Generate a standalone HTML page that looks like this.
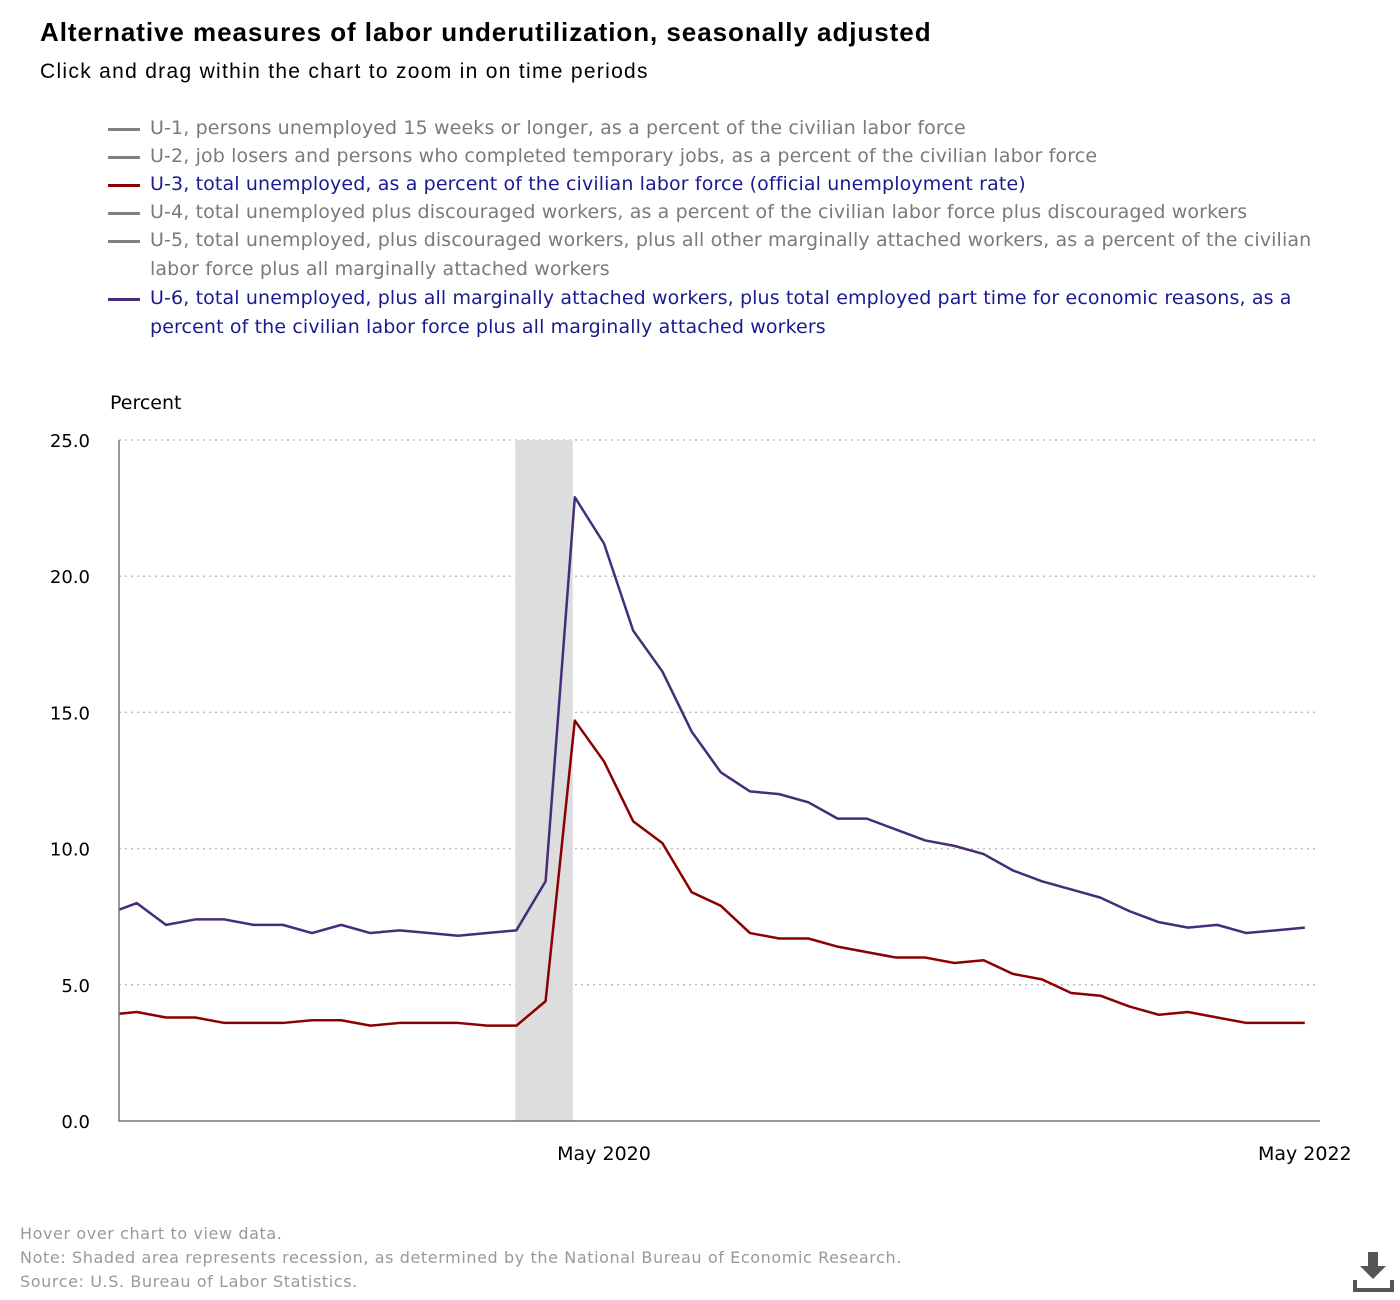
<!DOCTYPE html>
<html><head><meta charset="utf-8"><style>
body{margin:0;background:#fff;width:1400px;height:1300px;overflow:hidden;font-family:"Liberation Sans",sans-serif;position:relative}
.t{position:absolute;white-space:nowrap}
.leg{position:absolute;left:108px;font-size:19px;line-height:29px;font-family:"DejaVu Sans",sans-serif;letter-spacing:0.13px}
.leg .sw{position:absolute;left:0;top:14px;width:32px;height:3px}
.leg .tx{position:absolute;left:42px;white-space:nowrap}
.g{color:#7a7a7a}.b{color:#1a1a90}
.fn{font-family:"DejaVu Sans",sans-serif;font-size:16px;color:#999;letter-spacing:0.6px}
</style></head><body>
<div class="t" style="left:40px;top:17px;font-size:26px;font-weight:bold;letter-spacing:0.95px">Alternative measures of labor underutilization, seasonally adjusted</div>
<div class="t" style="left:40px;top:60px;font-size:21px;letter-spacing:1.3px">Click and drag within the chart to zoom in on time periods</div>

<div class="leg" style="top:114px"><div class="sw" style="background:#808080"></div><div class="tx g">U-1, persons unemployed 15 weeks or longer, as a percent of the civilian labor force</div></div>
<div class="leg" style="top:142px"><div class="sw" style="background:#808080"></div><div class="tx g">U-2, job losers and persons who completed temporary jobs, as a percent of the civilian labor force</div></div>
<div class="leg" style="top:170px"><div class="sw" style="background:#8b0000"></div><div class="tx b">U-3, total unemployed, as a percent of the civilian labor force (official unemployment rate)</div></div>
<div class="leg" style="top:198px"><div class="sw" style="background:#808080"></div><div class="tx g">U-4, total unemployed plus discouraged workers, as a percent of the civilian labor force plus discouraged workers</div></div>
<div class="leg" style="top:226px"><div class="sw" style="background:#808080"></div><div class="tx g">U-5, total unemployed, plus discouraged workers, plus all other marginally attached workers, as a percent of the civilian<br>labor force plus all marginally attached workers</div></div>
<div class="leg" style="top:284px"><div class="sw" style="background:#472c7a"></div><div class="tx b">U-6, total unemployed, plus all marginally attached workers, plus total employed part time for economic reasons, as a<br>percent of the civilian labor force plus all marginally attached workers</div></div>

<svg id="chart" width="1400" height="1300" style="position:absolute;left:0;top:0" font-family="DejaVu Sans, sans-serif">
<defs><clipPath id="clip"><rect x="119" y="430" width="1200" height="700"/></clipPath></defs>
<text x="110" y="409" font-size="19">Percent</text>
<g id="grid"></g><g id="rec"></g><g id="lines" clip-path="url(#clip)"></g><g id="axes"></g>
</svg>

<div class="t fn" style="left:20px;top:1224px">Hover over chart to view data.</div>
<div class="t fn" style="left:20px;top:1248px">Note: Shaded area represents recession, as determined by the National Bureau of Economic Research.</div>
<div class="t fn" style="left:20px;top:1272px">Source: U.S. Bureau of Labor Statistics.</div>
<svg style="position:absolute;left:1352px;top:1250px" width="44" height="44"><path d="M16 2h10v14h8l-13 13-13-13h8z" fill="#555"/><path d="M3 30v10h37v-10" stroke="#555" stroke-width="4" fill="none"/></svg>

<script>
const months=["Dec 2018","Jan 2019","Feb 2019","Mar 2019","Apr 2019","May 2019","Jun 2019","Jul 2019","Aug 2019","Sep 2019","Oct 2019","Nov 2019","Dec 2019","Jan 2020","Feb 2020","Mar 2020","Apr 2020","May 2020","Jun 2020","Jul 2020","Aug 2020","Sep 2020","Oct 2020","Nov 2020","Dec 2020","Jan 2021","Feb 2021","Mar 2021","Apr 2021","May 2021","Jun 2021","Jul 2021","Aug 2021","Sep 2021","Oct 2021","Nov 2021","Dec 2021","Jan 2022","Feb 2022","Mar 2022","Apr 2022","May 2022"];
const u3=[3.9,4.0,3.8,3.8,3.6,3.6,3.6,3.7,3.7,3.5,3.6,3.6,3.6,3.5,3.5,4.4,14.7,13.2,11.0,10.2,8.4,7.9,6.9,6.7,6.7,6.4,6.2,6.0,6.0,5.8,5.9,5.4,5.2,4.7,4.6,4.2,3.9,4.0,3.8,3.6,3.6,3.6];
const u6=[7.6,8.0,7.2,7.4,7.4,7.2,7.2,6.9,7.2,6.9,7.0,6.9,6.8,6.9,7.0,8.8,22.9,21.2,18.0,16.5,14.3,12.8,12.1,12.0,11.7,11.1,11.1,10.7,10.3,10.1,9.8,9.2,8.8,8.5,8.2,7.7,7.3,7.1,7.2,6.9,7.0,7.1];
const yTicks=[0,5,10,15,20,25];
const xLabels=["May 2020","May 2022"];
const recession=["Feb 2020","Apr 2020"];
const NS="http://www.w3.org/2000/svg";
const x=i=>604+(i-17)*29.2;
const y=v=>1121-v*27.24;
const xm=m=>x(months.indexOf(m));
function mk(t,a,p){const e=document.createElementNS(NS,t);for(const k in a)e.setAttribute(k,a[k]);document.getElementById(p).appendChild(e);return e;}
yTicks.forEach(v=>{
  if(v>0){const l=mk('line',{x1:119,x2:1318,y1:y(v),y2:y(v),stroke:'#bbb','stroke-dasharray':'2,4','stroke-width':1.5},'grid');
  
  }
  const t=mk('text',{x:90,y:y(v)+7,'font-size':18,'text-anchor':'end'},'axes');t.textContent=v.toFixed(1);
  
  
});
const r=mk('rect',{x:xm(recession[0])-1,y:440,width:xm(recession[1])-xm(recession[0])-1,height:681,fill:'#ddd'},'rec');


[[u3,'#8b0000','u3-line'],[u6,'#472c7a','u6-line']].forEach(([d,c,n])=>{
  const p=mk('polyline',{points:d.map((v,i)=>x(i)+','+y(v)).join(' '),fill:'none',stroke:c,'stroke-width':2.5,'stroke-linejoin':'round'},'lines');
  
  
});
const ax=mk('path',{d:'M119 440V1121H1320',stroke:'#777','stroke-width':1.5,fill:'none'},'axes');


xLabels.forEach(m=>{const t=mk('text',{x:xm(m),y:1160,'font-size':19,'text-anchor':'middle'},'axes');t.textContent=m;
  
  });
</script>
</body></html>
